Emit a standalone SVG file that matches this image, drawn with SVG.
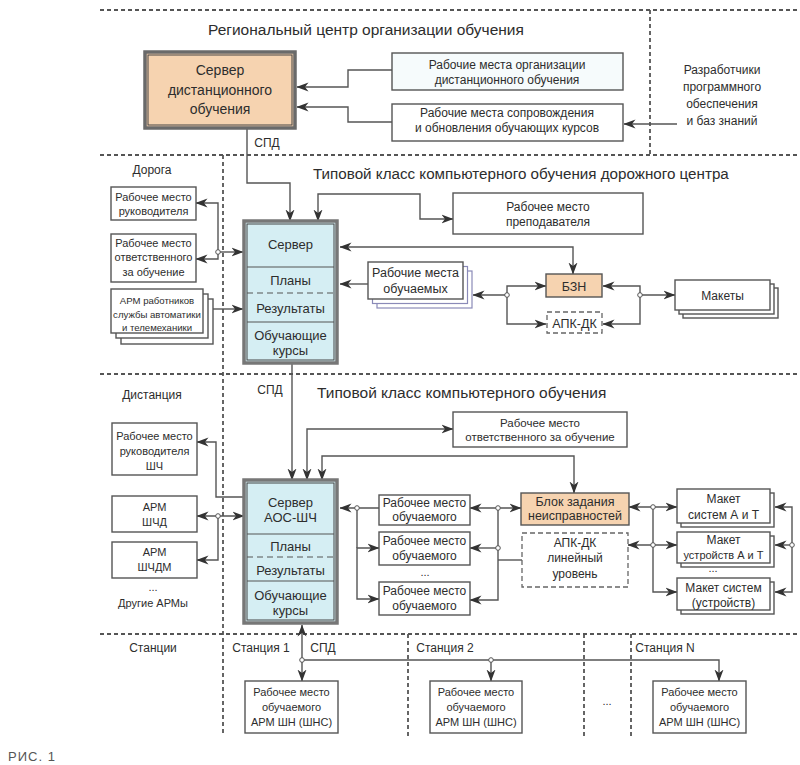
<svg xmlns="http://www.w3.org/2000/svg" width="800" height="765" viewBox="0 0 800 765">
<defs>
<marker id="a" viewBox="0 0 12 10" refX="11.5" refY="5" markerWidth="12" markerHeight="10" markerUnits="userSpaceOnUse" orient="auto-start-reverse"><path d="M0,0.5 L12,5 L0,9.5 L3.5,5 Z" fill="#333"/></marker>
</defs>
<style>
text{font-family:"Liberation Sans Narrow","Liberation Sans",Arial,sans-serif;fill:#2d2d2d;text-anchor:middle}
.ttl{font-size:15.5px;text-anchor:start}
.lbl{font-size:12px}
.s11{font-size:11px}
.s12{font-size:12px}
.s13{font-size:13px}
.s14{font-size:14px}
.box{fill:#fff;stroke:#555;stroke-width:1.4}
.lav{fill:#fff;stroke:#8a8ab8;stroke-width:1.2}
.org{fill:#f6d3b0;stroke:#555;stroke-width:1.4}
.dbox{fill:#fff;stroke:#666;stroke-width:1.3;stroke-dasharray:5 3}
.srv{fill:#d5eef3;stroke:#777;stroke-width:3.5}
.srvin{fill:none;stroke:#444;stroke-width:1}
.div{stroke:#555;stroke-width:1.2}
.divd{stroke:#555;stroke-width:1.2;stroke-dasharray:6 4}
.sep{stroke:#555;stroke-width:1.8;stroke-dasharray:4 3;fill:none}
.c{fill:none;stroke:#555;stroke-width:1.4}
.j{fill:#fff;stroke:#555;stroke-width:1}
</style>

<!-- separators -->
<g id="separators">
<line class="sep" x1="100" y1="10" x2="800" y2="10"/>
<line class="sep" x1="100" y1="155" x2="800" y2="155"/>
<line class="sep" x1="100" y1="374" x2="800" y2="374"/>
<line class="sep" x1="100" y1="634" x2="800" y2="634"/>
<line class="sep" x1="650" y1="10" x2="650" y2="155"/>
<line class="sep" x1="223" y1="155" x2="223" y2="736"/>
<line class="sep" x1="408" y1="634" x2="408" y2="736"/>
<line class="sep" x1="584" y1="634" x2="584" y2="736"/>
<line class="sep" x1="631" y1="634" x2="631" y2="736"/>
</g>

<!-- section labels -->
<g id="labels">
<text class="ttl" x="208" y="35">Региональный центр организации обучения</text>
<text class="s12" x="722" y="74">Разработчики</text>
<text class="s12" x="722" y="91">программного</text>
<text class="s12" x="722" y="108">обеспечения</text>
<text class="s12" x="722" y="125">и баз знаний</text>
<text class="lbl" x="267" y="147">СПД</text>
<text class="lbl" x="152" y="174">Дорога</text>
<text class="ttl" x="313" y="179" style="font-size:15.2px">Типовой класс компьютерного обучения дорожного центра</text>
<text class="lbl" x="152" y="399">Дистанция</text>
<text class="lbl" x="270" y="394">СПД</text>
<text class="ttl" x="317" y="398">Типовой класс компьютерного обучения</text>
<text class="s11" x="153" y="591">...</text>
<text class="s11" x="153" y="607">Другие АРМы</text>
<text class="s11" x="425" y="576">...</text>
<text class="s11" x="713" y="572">...</text>
<text class="lbl" x="153" y="652">Станции</text>
<text class="lbl" x="261" y="652">Станция 1</text>
<text class="lbl" x="323" y="652">СПД</text>
<text class="lbl" x="445" y="652">Станция 2</text>
<text class="lbl" x="665" y="652">Станция N</text>
<text class="s11" x="607" y="705">...</text>
<text x="8" y="761" style="font-size:13px;text-anchor:start;fill:#555;letter-spacing:1px;font-family:'Liberation Sans',Arial,sans-serif">РИС. 1</text>
</g>

<!-- connectors -->
<g id="connectors">
<path class="c" d="M392,70 H348 V87 H297" marker-end="url(#a)"/>
<path class="c" d="M392,122 H348 V107 H297" marker-end="url(#a)"/>
<path class="c" d="M677,124 H624" marker-end="url(#a)"/>
<path class="c" d="M247,128 V183 H290 V221" marker-end="url(#a)"/>
<path class="c" d="M318,221 V194 H420 V219 H453" marker-start="url(#a)" marker-end="url(#a)"/>
<path class="c" d="M196,203 H218 V259 H196" marker-start="url(#a)" marker-end="url(#a)"/>
<path class="c" d="M218,252 H243" marker-end="url(#a)"/>
<path class="c" d="M213,309 H243" marker-end="url(#a)"/>
<path class="c" d="M340,247 H573 V274" marker-start="url(#a)" marker-end="url(#a)"/>
<path class="c" d="M368,284 H340" marker-end="url(#a)"/>
<path class="c" d="M507,295 H473" marker-end="url(#a)"/>
<path class="c" d="M546,286 H507 V324 H546" marker-start="url(#a)" marker-end="url(#a)"/>
<path class="c" d="M603,286 H640 V324 H603" marker-start="url(#a)" marker-end="url(#a)"/>
<path class="c" d="M640,295 H675" marker-end="url(#a)"/>
<path class="c" d="M292,363 V480" marker-end="url(#a)"/>
<path class="c" d="M307,480 V429 H453" marker-start="url(#a)" marker-end="url(#a)"/>
<path class="c" d="M322,480 V456 H574 V493" marker-start="url(#a)" marker-end="url(#a)"/>
<path class="c" d="M244,497 H216 V442 H197" marker-end="url(#a)"/>
<path class="c" d="M197,516 H244" marker-start="url(#a)" marker-end="url(#a)"/>
<path class="c" d="M218,516 V560 H197" marker-end="url(#a)"/>
<path class="c" d="M379,508 H340" marker-end="url(#a)"/>
<path class="c" d="M379,548 H357 V599 H379" marker-start="url(#a)" marker-end="url(#a)"/>
<path class="c" d="M357,508 V548"/>
<path class="c" d="M470,508 H521" marker-start="url(#a)" marker-end="url(#a)"/>
<path class="c" d="M470,548 H498" marker-start="url(#a)"/>
<path class="c" d="M498,508 V600 H470" marker-end="url(#a)"/>
<path class="c" d="M498,560 H522"/>
<path class="c" d="M629,507 H677" marker-start="url(#a)" marker-end="url(#a)"/>
<path class="c" d="M628,545 H677" marker-start="url(#a)" marker-end="url(#a)"/>
<path class="c" d="M653,507 V592 H677" marker-end="url(#a)"/>
<path class="c" d="M775,507 H792 V592 H775" marker-start="url(#a)" marker-end="url(#a)"/>
<path class="c" d="M792,545 H775" marker-end="url(#a)"/>
<path class="c" d="M302,625 V681" marker-start="url(#a)" marker-end="url(#a)"/>
<path class="c" d="M302,660 H719 V681" marker-end="url(#a)"/>
<path class="c" d="M491,660 V681" marker-end="url(#a)"/>
<circle class="j" cx="218" cy="252" r="2.3"/>
<circle class="j" cx="507" cy="295" r="2.3"/>
<circle class="j" cx="640" cy="295" r="2.3"/>
<circle class="j" cx="218" cy="516" r="2.3"/>
<circle class="j" cx="357" cy="508" r="2.3"/>
<circle class="j" cx="498" cy="508" r="2.3"/>
<circle class="j" cx="498" cy="548" r="2.3"/>
<circle class="j" cx="653" cy="507" r="2.3"/>
<circle class="j" cx="653" cy="545" r="2.3"/>
<circle class="j" cx="792" cy="545" r="2.3"/>
<circle class="j" cx="302" cy="660" r="2.3"/>
<circle class="j" cx="491" cy="660" r="2.3"/>
</g>

<!-- Section 1 -->
<g id="server-distance">
<rect x="145" y="52" width="150" height="76" fill="#f6d3b0" stroke="#6a6a6a" stroke-width="3.5"/>
<rect x="148" y="55" width="144" height="70" class="srvin"/>
<text class="s14" x="220" y="75">Сервер</text>
<text class="s14" x="220" y="95">дистанционного</text>
<text class="s14" x="220" y="114">обучения</text>
</g>
<g id="rm-org">
<rect class="box" x="392" y="53" width="231" height="37" style="fill:#f6fbfc"/>
<text class="s12" x="507" y="69">Рабочие места организации</text>
<text class="s12" x="507" y="84">дистанционного обучения</text>
</g>
<g id="rm-support">
<rect class="box" x="392" y="104" width="231" height="37"/>
<text class="s12" x="507" y="117">Рабочие места сопровождения</text>
<text class="s12" x="507" y="132">и обновления обучающих курсов</text>
</g>

<!-- Section 2 -->
<g id="rm-head">
<rect class="box" x="111" y="187" width="85" height="33"/>
<text class="s11" x="153.5" y="201">Рабочее место</text>
<text class="s11" x="153.5" y="215">руководителя</text>
</g>
<g id="rm-resp">
<rect class="box" x="111" y="234" width="85" height="48"/>
<text class="s11" x="153.5" y="247">Рабочее место</text>
<text class="s11" x="153.5" y="261">ответственного</text>
<text class="s11" x="153.5" y="276">за обучение</text>
</g>
<g id="arm-at">
<rect class="box" x="121" y="299" width="92" height="45"/>
<rect class="box" x="116" y="294" width="92" height="44"/>
<rect class="box" x="111" y="289" width="92" height="44"/>
<text x="157" y="304" style="font-size:9.6px">АРМ работников</text>
<text x="157" y="318" style="font-size:9.6px">службы автоматики</text>
<text x="157" y="331" style="font-size:9.6px">и телемеханики</text>
</g>
<g id="server-road">
<rect class="srv" x="244" y="221" width="93" height="142"/>
<rect class="srvin" x="247" y="224" width="87" height="136"/>
<line class="div" x1="247" y1="267" x2="334" y2="267"/>
<line class="divd" x1="247" y1="293" x2="334" y2="293"/>
<line class="div" x1="247" y1="322" x2="334" y2="322"/>
<text class="s13" x="290.5" y="249">Сервер</text>
<text class="s13" x="290.5" y="285">Планы</text>
<text class="s13" x="290.5" y="313">Результаты</text>
<text class="s13" x="290.5" y="340">Обучающие</text>
<text class="s13" x="290.5" y="355">курсы</text>
</g>
<g id="rm-teacher">
<rect class="box" x="453" y="193" width="190" height="41"/>
<text class="s12" x="548" y="211">Рабочее место</text>
<text class="s12" x="548" y="226">преподавателя</text>
</g>
<g id="rm-students">
<rect class="lav" x="377" y="271" width="95" height="37"/>
<rect class="lav" x="372.5" y="266.5" width="95" height="37"/>
<rect class="box" x="368" y="262" width="95" height="37"/>
<text x="415.5" y="277" style="font-size:12.5px">Рабочие места</text>
<text x="415.5" y="293" style="font-size:12.5px">обучаемых</text>
</g>
<g id="bzn">
<rect class="org" x="546" y="274" width="56" height="23"/>
<text x="574" y="290.5" style="font-size:12.5px">БЗН</text>
</g>
<g id="apk-dk">
<rect class="dbox" x="547" y="312" width="55" height="21"/>
<text x="574.5" y="327.5" style="font-size:12.5px">АПК-ДК</text>
</g>
<g id="makety">
<rect class="box" x="683" y="288" width="95" height="30"/>
<rect class="box" x="679" y="284" width="95" height="30"/>
<rect class="box" x="675" y="280" width="95" height="30"/>
<text class="s12" x="722.5" y="299.5">Макеты</text>
</g>

<!-- Section 3 -->
<g id="rm-head-shch">
<rect class="box" x="112" y="423" width="85" height="52"/>
<text class="s11" x="154.5" y="440">Рабочее место</text>
<text class="s11" x="154.5" y="455">руководителя</text>
<text class="s11" x="154.5" y="470">ШЧ</text>
</g>
<g id="arm-shchd">
<rect class="box" x="112" y="496" width="85" height="36"/>
<text class="s11" x="154.5" y="511">АРМ</text>
<text class="s11" x="154.5" y="526">ШЧД</text>
</g>
<g id="arm-shchdm">
<rect class="box" x="112" y="542" width="85" height="36"/>
<text class="s11" x="154.5" y="556">АРМ</text>
<text class="s11" x="154.5" y="571">ШЧДМ</text>
</g>
<g id="server-aos">
<rect class="srv" x="244" y="480" width="93" height="143"/>
<rect class="srvin" x="247" y="483" width="87" height="137"/>
<line class="div" x1="247" y1="534" x2="334" y2="534"/>
<line class="divd" x1="247" y1="557" x2="334" y2="557"/>
<line class="div" x1="247" y1="581" x2="334" y2="581"/>
<text class="s13" x="290.5" y="507">Сервер</text>
<text class="s13" x="290.5" y="522">АОС-ШЧ</text>
<text class="s13" x="290.5" y="551">Планы</text>
<text class="s13" x="290.5" y="575">Результаты</text>
<text class="s13" x="290.5" y="600">Обучающие</text>
<text class="s13" x="290.5" y="615">курсы</text>
</g>
<g id="rm-resp-3">
<rect class="box" x="453" y="412" width="174" height="35"/>
<text x="540" y="427" style="font-size:11.5px">Рабочее место</text>
<text x="540" y="441" style="font-size:11.5px">ответственного за обучение</text>
</g>
<g id="rm-st1">
<rect class="box" x="379" y="495" width="91" height="30"/>
<text class="s12" x="424.5" y="507">Рабочее место</text>
<text class="s12" x="424.5" y="521">обучаемого</text>
</g>
<g id="rm-st2">
<rect class="box" x="379" y="532" width="91" height="33"/>
<text class="s12" x="424.5" y="545">Рабочее место</text>
<text class="s12" x="424.5" y="560">обучаемого</text>
</g>
<g id="rm-st3">
<rect class="box" x="379" y="582" width="91" height="33"/>
<text class="s12" x="424.5" y="595">Рабочее место</text>
<text class="s12" x="424.5" y="610">обучаемого</text>
</g>
<g id="fault-block">
<rect class="org" x="521" y="493" width="108" height="32"/>
<text x="575" y="506" style="font-size:12.5px">Блок задания</text>
<text x="575" y="520" style="font-size:12.5px">неисправностей</text>
</g>
<g id="apk-dk-line">
<rect class="dbox" x="522" y="533" width="106" height="54"/>
<text class="s12" x="575" y="547">АПК-ДК</text>
<text class="s12" x="575" y="562">линейный</text>
<text class="s12" x="575" y="578">уровень</text>
</g>
<g id="maket-1">
<rect class="box" x="681" y="493" width="93" height="34"/>
<rect class="box" x="677" y="489" width="93" height="34"/>
<text class="s12" x="723.5" y="503">Макет</text>
<text class="s12" x="723.5" y="519">систем А и Т</text>
</g>
<g id="maket-2">
<rect class="box" x="681" y="536" width="93" height="31"/>
<rect class="box" x="677" y="532" width="93" height="31"/>
<text class="s12" x="723.5" y="544">Макет</text>
<text x="723.5" y="559" style="font-size:11px">устройств А и Т</text>
</g>
<g id="maket-3">
<rect class="box" x="681" y="582" width="93" height="32"/>
<rect class="box" x="677" y="578" width="93" height="32"/>
<text class="s12" x="723.5" y="592">Макет систем</text>
<text class="s12" x="723.5" y="607">(устройств)</text>
</g>

<!-- Section 4 -->
<g id="st-1">
<rect class="box" x="245" y="681" width="93" height="52"/>
<text class="s11" x="291.5" y="696">Рабочее место</text>
<text class="s11" x="291.5" y="711">обучаемого</text>
<text class="s11" x="291.5" y="726">АРМ ШН (ШНС)</text>
</g>
<g id="st-2">
<rect class="box" x="430" y="681" width="92" height="52"/>
<text class="s11" x="476" y="696">Рабочее место</text>
<text class="s11" x="476" y="711">обучаемого</text>
<text class="s11" x="476" y="726">АРМ ШН (ШНС)</text>
</g>
<g id="st-n">
<rect class="box" x="653" y="681" width="93" height="52"/>
<text class="s11" x="699.5" y="696">Рабочее место</text>
<text class="s11" x="699.5" y="711">обучаемого</text>
<text class="s11" x="699.5" y="726">АРМ ШН (ШНС)</text>
</g>
</svg>
